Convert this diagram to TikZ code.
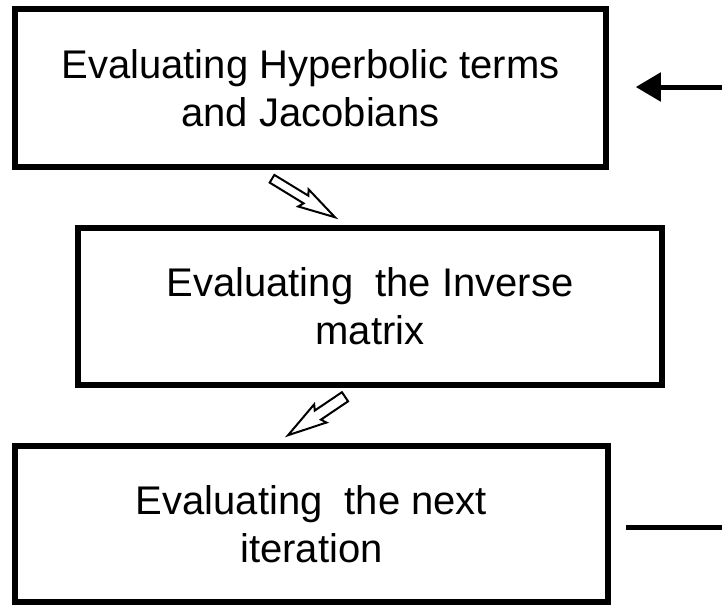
\documentclass[tikz,border=0pt]{standalone}
\usepackage{fontspec}
\setmainfont{Liberation Sans}
\usetikzlibrary{arrows.meta,calc}

\tikzset{
 stage/.style={draw, line width=5.5pt, align=center, inner sep=0pt,
  font=\fontsize{40}{48}\selectfont},
 hollow/.style={draw, line width=2pt, fill=white, line join=miter},
 feed/.style={line width=5pt}
}

% hollow block arrow: from, to, half shaft, head length, half head
\newcommand\hollowarrow[5]{%
 \draw[hollow] let \p1=($(#2)-(#1)$), \n1={atan2(\y1,\x1)}, \n2={veclen(\x1,\y1)} in
  [shift={(#1)}, rotate=\n1]
  (0pt,-#3pt) -- (\n2-#4pt,-#3pt) -- (\n2-#4pt-3pt,-#5pt) -- (\n2,0pt)
  -- (\n2-#4pt-3pt,#5pt) -- (\n2-#4pt,#3pt) -- (0pt,#3pt) -- cycle;}

\begin{document}
\begin{tikzpicture}[x=1pt,y=-1pt]
%\draw[help lines] (0,0) grid[step=50] (722,606);
\useasboundingbox (0,0) rectangle (722,606);

 \node[stage, minimum width=591pt, minimum height=158pt] (hyp) at (310.5,88)
  {Evaluating Hyperbolic terms\\and Jacobians};

 \node[stage, minimum width=584pt, minimum height=157pt] (inv) at (370,306.5)
  {Evaluating\ \ the Inverse\\matrix};

 \node[stage, minimum width=593pt, minimum height=156pt] (nxt) at (311.5,524)
  {Evaluating\ \ the next\\iteration};

 \coordinate (t1) at ($(hyp.south)+(-38.5,9)$);
 \coordinate (h1) at ($(inv.north)+(-35,-8)$);
 \coordinate (t2) at ($(inv.south)+(-25,9)$);
 \coordinate (h2) at ($(nxt.north)+(-23.5,-8)$);

 \hollowarrow{t1}{h1}{4.5}{34}{10}
 \hollowarrow{t2}{h2}{5.5}{36}{11}

 % loop back
 \coordinate (back) at (722,87);
 \coordinate (out) at (722,527);
 \draw[feed, -{Triangle[length=25pt,width=28pt]}] (back) -- ([xshift=27pt,yshift=1pt]hyp.east);
 \draw[feed] ([xshift=15pt,yshift=-3pt]nxt.east) -- (out);

\end{tikzpicture}
\end{document}
